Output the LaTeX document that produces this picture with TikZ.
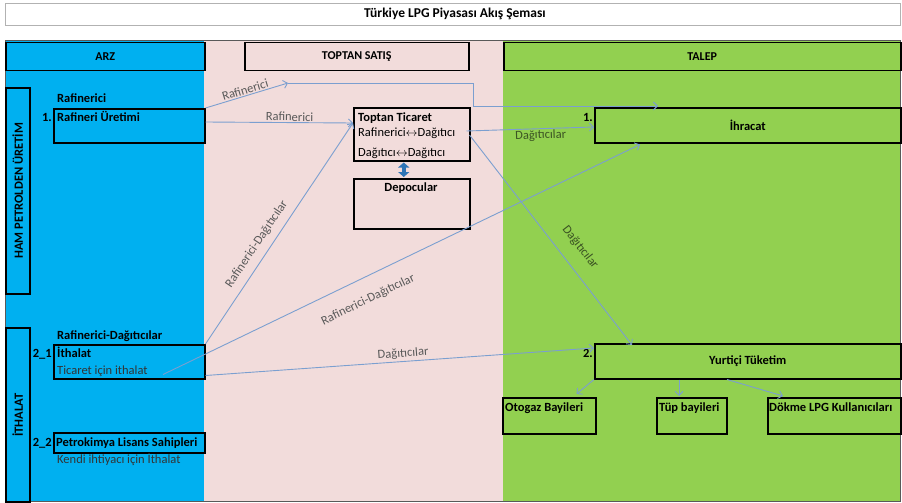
\documentclass[tikz,border=0pt]{standalone}
\usepackage{fontspec}
\setmainfont{Carlito}
\usetikzlibrary{arrows.meta}
\usetikzlibrary{calc}
\definecolor{arzblue}{HTML}{00B0F0}
\definecolor{toptanpink}{HTML}{F2DCDB}
\definecolor{talepgreen}{HTML}{92D050}
\definecolor{flowblue}{HTML}{7B9FD0}
\definecolor{depoblue}{HTML}{2E75B6}
\definecolor{labelgreen}{HTML}{3B5323}
\tikzset{box/.style = {draw, line width = 1.5pt, anchor = north west, inner sep = 0}}
\tikzset{hdr/.style = {box, minimum height = 28pt, font = \bfseries\fontsize{12}{14}\selectfont}}
\tikzset{txt/.style = {font = \fontsize{12.5}{15}\selectfont, inner sep = 0}}
\tikzset{btxt/.style = {txt, font = \bfseries\fontsize{12.5}{15}\selectfont}}
\tikzset{flow/.style = {draw = flowblue, line width = 0.9pt, -{Straight Barb[length = 4pt, width = 8pt]}}}
\tikzset{flowlbl/.style = {txt, text = black!65, sloped}}
\begin{document}
\begin{tikzpicture}[x = 1pt, y = -1pt]
  \useasboundingbox (0, 0) rectangle (902, 503);
  % columns
  \fill [arzblue] (5, 41) rectangle (204, 501);
  \fill [toptanpink] (204, 41) rectangle (503, 501);
  \fill [talepgreen] (503, 41) rectangle (900, 501);
  \draw [gray!70!black, line width = 1pt] (5, 41) rectangle (900, 501);
  % title
  \node [box, draw = gray!60, line width = 1.2pt, fill = white, minimum width = 895pt, minimum height = 22pt] (titlebox) at (5, 3) {};
  \node [btxt, font = \bfseries\fontsize{13.5}{16}\selectfont] (title) at (455, 14) {Türkiye LPG Piyasası Akış Şeması};
  % headers
  \node [hdr, fill = arzblue, minimum width = 199pt] (arz) at (5, 42) {ARZ};
  \node [hdr, fill = toptanpink, minimum width = 224pt] (toptansatis) at (244, 42) {TOPTAN SATIŞ};
  \node [hdr, fill = talepgreen, minimum width = 397pt] (talep) at (503, 42) {TALEP};
  % side boxes
  \node [box, minimum width = 24pt, minimum height = 206pt] (hampetrol) at (5, 87) {};
  \node [btxt, rotate = 90] (hampetroltxt) at (hampetrol.center) {HAM PETROLDEN ÜRETİM};
  \node [box, minimum width = 24pt, minimum height = 174pt] (ithalatside) at (5, 327) {};
  \node [btxt, rotate = 90] (ithalatsidetxt) at ($(ithalatside.north) + (0, 88)$) {İTHALAT};
  % arz
  \node [box, minimum width = 151pt, minimum height = 34pt] (rafuretim) at (53, 108) {};
  \node [btxt, anchor = base west] (rafinerici) at (57, 102) {Rafinerici};
  \node [btxt, anchor = base east] (no1) at (52, 121) {1.};
  \node [btxt, anchor = base west] (rafuretimtxt) at (57, 121) {Rafineri Üretimi};
  \node [box, minimum width = 151pt, minimum height = 34pt] (ithalat) at (53, 344) {};
  \node [btxt, anchor = base west] (rafdagitici) at (57, 339) {Rafinerici-Dağıtıcılar};
  \node [btxt, anchor = base east] (no21) at (52, 357) {2\_1};
  \node [btxt, anchor = base west] (ithalattxt) at (57, 357) {İthalat};
  \node [txt, anchor = base west, text = black!80] (ticaret) at (57, 374) {Ticaret için ithalat};
  \node [box, minimum width = 151pt, minimum height = 20pt] (petrokimya) at (53, 432) {};
  \node [btxt, anchor = base east] (no22) at (52, 446) {2\_2};
  \node [btxt, anchor = base west] (petrokimyatxt) at (56, 446) {Petrokimya Lisans Sahipleri};
  \node [txt, anchor = base west, text = black!80] (kendi) at (57, 463) {Kendi ihtiyacı için İthalat};
  % toptan satis
  \node [box, minimum width = 116pt, minimum height = 53pt] (toptan) at (353, 107) {};
  \node [btxt, anchor = base west] (toptantxt) at (358, 121) {Toptan Ticaret};
  \node [txt, anchor = base west] (rafdag) at (358, 136) {Rafinerici$\leftrightarrow$Dağıtıcı};
  \node [txt, anchor = base west] (dagdag) at (358, 156) {Dağıtıcı$\leftrightarrow$Dağıtıcı};
  \node [box, minimum width = 116pt, minimum height = 50pt] (depo) at (353, 178) {};
  \node [btxt, anchor = base] (depotxt) at (411, 191) {Depocular};
  \draw [depoblue, line width = 4.5pt, {Triangle[length = 5pt, width = 11pt]}-{Triangle[length = 5pt, width = 11pt]}] ($(toptan.south) + (-8, 1)$) -- ($(depo.north) + (-8, -1)$);
  % talep
  \node [box, btxt, minimum width = 306pt, minimum height = 35pt] (ihracat) at (594, 107) {İhracat};
  \node [btxt, anchor = base east] (no1b) at (593, 121) {1.};
  \node [box, btxt, minimum width = 306pt, minimum height = 35pt] (yurtici) at (594, 343) {Yurtiçi Tüketim};
  \node [btxt, anchor = base east] (no2) at (593, 357) {2.};
  \node [box, minimum width = 93pt, minimum height = 36pt] (otogaz) at (502, 397) {};
  \node [btxt, anchor = base west] (otogaztxt) at (505, 411) {Otogaz Bayileri};
  \node [box, minimum width = 70pt, minimum height = 36pt] (tup) at (656, 397) {};
  \node [btxt, anchor = base west] (tuptxt) at (659, 411) {Tüp bayileri};
  \node [box, minimum width = 133pt, minimum height = 36pt] (dokme) at (767, 397) {};
  \node [btxt, anchor = base west] (dokmetxt) at (769, 411) {Dökme LPG Kullanıcıları};
  % flows
  \coordinate (rafbend) at (288, 83);
  \coordinate (ihrtop) at (658, 106);
  \draw [flow] (rafuretim.north east) -- (rafbend) node [flowlbl, pos = 0.5, above = 1pt] (lblraf1) {Rafinerici};
  \draw [flow] (rafbend) -- ++(185, 0) |- (ihrtop);
  \draw [flow] ($(rafuretim.north east) + (0, 14)$) -- ($(toptan.north west) + (0, 16)$) node [flowlbl, pos = 0.57, above = 1pt] (lblraf2) {Rafinerici};
  \draw [flow] (ithalat.north east) -- ($(toptan.north west) + (0, 16)$) node [flowlbl, pos = 0.42, above = 7pt] (lblrafdag1) {Rafinerici-Dağıtıcılar};
  \draw [flow] ($(ithalat.south west) + (110, -5)$) -- ($(ihracat.south west) + (46, 1)$) node [flowlbl, pos = 0.41, below = 16pt] (lblrafdag2) {Rafinerici-Dağıtıcılar};
  \draw [flow] ($(ithalat.south east) + (0, -4)$) -- ($(yurtici.north west) + (0, 5)$) node [flowlbl, pos = 0.51, above = 2pt] (lbldag1) {Dağıtıcılar};
  \draw [flow] ($(toptan.north east) + (-4, 24)$) -- ($(ihracat.north west) + (0, 20)$) node [flowlbl, text = labelgreen, pos = 0.58, below = 1pt] (lbldag2) {Dağıtıcılar};
  \draw [flow] ($(toptan.north east) + (-1, 28)$) -- ($(yurtici.north west) + (38, 2)$) node [flowlbl, text = labelgreen, pos = 0.59, above = 13pt] (lbldag3) {Dağıtıcılar};
  \draw [flow] (yurtici.south west) -- ($(otogaz.north east) + (-20, -3)$);
  \draw [flow] ($(yurtici.south west) + (85, 0)$) -- ($(tup.north west) + (23, -1)$);
  \draw [flow] ($(yurtici.south west) + (133, 0)$) -- ($(dokme.north west) + (16, -1)$);
\end{tikzpicture}
\end{document}
